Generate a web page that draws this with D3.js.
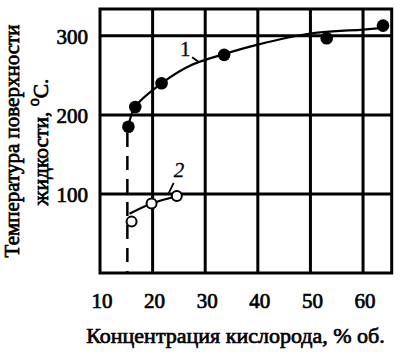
<!DOCTYPE html>
<html><head><meta charset="utf-8">
<script src="https://cdn.jsdelivr.net/npm/d3@7"></script>
<style>
html,body{margin:0;padding:0;background:#fff;}
svg{display:block;}
</style></head>
<body>
<svg id="chart" width="400" height="354"></svg>
<script>
// Data
const xTicks = [10, 20, 30, 40, 50, 60];
const yTicks = [100, 200, 300];
const oxygen1 = [15.4, 16.7, 21.7, 33.6, 53.1, 63.8];
const temp1   = [185, 210, 240, 276, 297, 313];
const oxygen2 = [16.0, 19.8, 24.6];
const temp2   = [65, 88, 97.5];
const curve1X = [15.4, 16.65, 21.7, 27, 33.6, 40, 50, 60, 63.8];
const curve1Y = [185, 210, 240, 262, 277, 289, 303, 308, 310];
const curve2X = [15.6, 19.8, 24.6];
const curve2Y = [75, 88, 97.5];
const limitX = 15.2;
const limitY = [0, 177];
const xTitle = "Концентрация кислорода, % об.";
const yTitle1 = "Температура поверхности";
const yTitle2 = "жидкости, ";
const curveLabels = ["1", "2"];

const FONT = "'Liberation Serif', 'Times New Roman', Times, serif";
const svg = d3.select("#chart");
const x = d3.scaleLinear().domain([10, 65.45]).range([100, 391.7]);
const y = d3.scaleLinear().domain([0, 334]).range([273, 9]);

function txt(sel) {
  return sel.attr("font-family", FONT).attr("fill", "#000")
    .attr("stroke", "#000").attr("stroke-width", 0.7);
}

// gridlines
svg.append("g").selectAll("line").data(xTicks.slice(1)).join("line")
  .attr("x1", d => x(d)).attr("x2", d => x(d))
  .attr("y1", y(334)).attr("y2", y(0))
  .attr("stroke", "#000").attr("stroke-width", 3);
svg.append("g").selectAll("line").data(yTicks).join("line")
  .attr("x1", x(10)).attr("x2", x(65.45))
  .attr("y1", d => y(d)).attr("y2", d => y(d))
  .attr("stroke", "#000").attr("stroke-width", 3);
// frame
svg.append("rect").attr("x", x(10)).attr("y", y(334))
  .attr("width", x(65.45) - x(10)).attr("height", y(0) - y(334))
  .attr("fill", "none").attr("stroke", "#000").attr("stroke-width", 3);

// tick labels
txt(svg.append("g").selectAll("text").data(xTicks).join("text"))
  .attr("x", d => x(d) + 2).attr("y", 308)
  .attr("text-anchor", "middle").attr("font-size", 21)
  .text(d => d);
txt(svg.append("g").selectAll("text").data(yTicks).join("text"))
  .attr("x", 88).attr("y", d => y(d) + 8.5)
  .attr("text-anchor", "end").attr("font-size", 21)
  .text(d => d);

// axis titles
txt(svg.append("text")).attr("x", 235.5).attr("y", 343).attr("text-anchor", "middle")
  .attr("font-size", 22).text(xTitle);
txt(svg.append("text")).attr("transform", "translate(19,141) rotate(-90)")
  .attr("text-anchor", "middle").attr("font-size", 21).text(yTitle1);
const t2 = txt(svg.append("text")).attr("transform", "translate(47.5,142) rotate(-90)")
  .attr("text-anchor", "middle").attr("font-size", 21.5);
t2.append("tspan").text(yTitle2);
t2.append("tspan").attr("dy", -9).attr("font-size", 16).text("o");
t2.append("tspan").attr("dy", 9).text("С.");

// dashed limit line
svg.append("line").attr("x1", x(limitX)).attr("x2", x(limitX))
  .attr("y1", y(limitY[1])).attr("y2", y(limitY[0]))
  .attr("stroke", "#000").attr("stroke-width", 2.5).attr("stroke-dasharray", "14,9");

// curves
const line = d3.line().x(d => x(d[0])).y(d => y(d[1])).curve(d3.curveCatmullRom.alpha(0.5));
svg.append("path").attr("d", line(curve1X.map((v, i) => [v, curve1Y[i]])))
  .attr("fill", "none").attr("stroke", "#000").attr("stroke-width", 2.2);
svg.append("path").attr("d", line(curve2X.map((v, i) => [v, curve2Y[i]])))
  .attr("fill", "none").attr("stroke", "#000").attr("stroke-width", 2.2);

// markers
svg.append("g").selectAll("circle").data(oxygen1).join("circle")
  .attr("cx", d => x(d)).attr("cy", (d, i) => y(temp1[i])).attr("r", 6.3).attr("fill", "#000");
svg.append("g").selectAll("circle").data(oxygen2).join("circle")
  .attr("cx", d => x(d)).attr("cy", (d, i) => y(temp2[i])).attr("r", 5)
  .attr("fill", "#fff").attr("stroke", "#000").attr("stroke-width", 2);

// curve labels with leaders
txt(svg.append("text")).attr("x", x(26.2)).attr("y", y(274)).attr("text-anchor", "middle")
  .attr("font-size", 21).attr("stroke-width", 0.3).text(curveLabels[0]);
svg.append("line").attr("x1", x(27.5)).attr("y1", y(273)).attr("x2", x(28.8)).attr("y2", y(267))
  .attr("stroke", "#000").attr("stroke-width", 1.8);
txt(svg.append("text")).attr("x", x(25.0)).attr("y", y(122)).attr("text-anchor", "middle")
  .attr("font-size", 21).attr("font-style", "italic").attr("stroke-width", 0.3).text(curveLabels[1]);
svg.append("line").attr("x1", x(24.0)).attr("y1", y(114)).attr("x2", x(23.0)).attr("y2", y(100))
  .attr("stroke", "#000").attr("stroke-width", 1.8);
</script>
</body></html>
